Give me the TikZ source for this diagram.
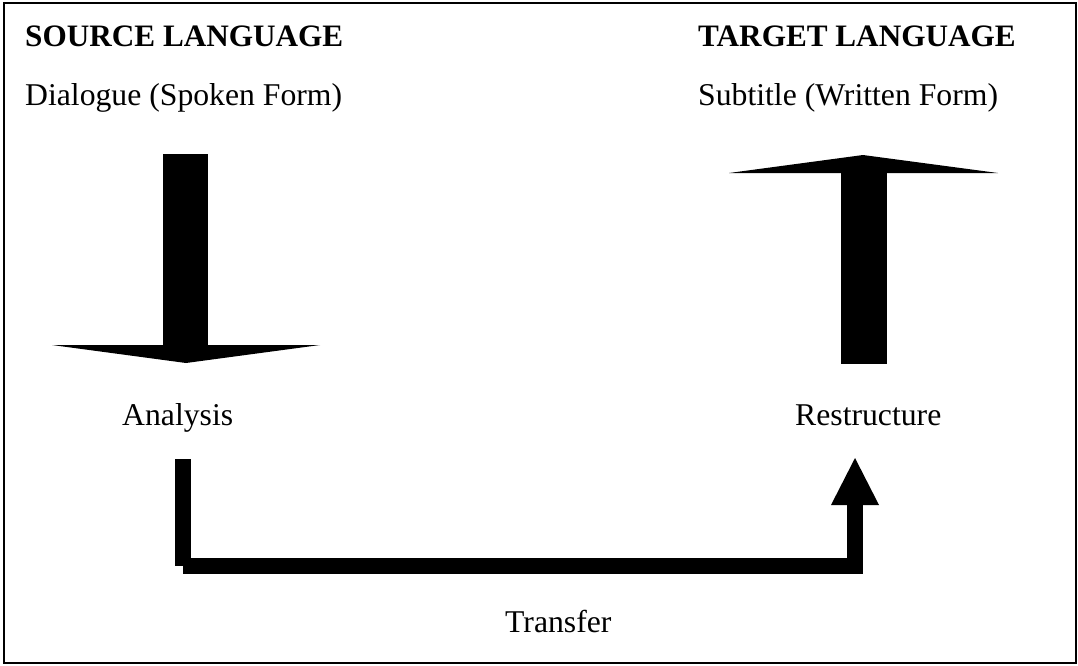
\documentclass[tikz,border=0pt]{standalone}
\usepackage{fontspec}
\setmainfont{Liberation Serif}
\usepackage{tikz}
\usetikzlibrary{calc,positioning}

\begin{document}
\begin{tikzpicture}[x=1pt,y=-1pt,
		lbl/.style={anchor=base west,inner sep=0pt,font=\fontsize{31.7}{38}\selectfont},
		head/.style={lbl,font=\fontsize{31.2}{38}\selectfont\bfseries},
		bar/.style={line width=16pt,line join=miter}]
		\useasboundingbox (0,0) rectangle (1078,665);
		\draw[line width=2pt] (4,3) rectangle (1076,663);
		\node[head] (src) at (25,46) {SOURCE LANGUAGE};
		\node[head] (tgt) at (698,46) {TARGET LANGUAGE};
		\node[lbl] (dlg) at (25,105) {Dialogue (Spoken Form)};
		\node[lbl] (sub) at (698,105) {Subtitle (Written Form)};
		\node[lbl] (ana) at (122,425) {Analysis};
		\node[lbl] (res) at (795,425) {Restructure};
		\node[lbl] (trf) at (505,632) {Transfer};
		\coordinate (d_top) at (185.5,154);
		\coordinate (d_tip) at (186,363);
		\coordinate (u_bot) at (864,364);
		\coordinate (u_tip) at (863,155);
		\coordinate (t_in) at (183,459);
		\coordinate (t_out) at (855,458);
		\fill (d_top) ++(-22.5,0) rectangle ++(45,192);
		\fill (d_tip) -- ++(-134,-18) -- ++(268,0) -- cycle;
		\fill (u_bot) ++(-23,0) rectangle ++(46,-192);
		\fill (u_tip) -- ++(-134,18) -- ++(269,0) -- cycle;
		\draw[bar] (t_in) -- (t_in |- 0,566) (t_in |- 0,566) -- (t_out |- 0,566) -- ($(t_out)+(0,47)$);
		\fill (t_out) -- ++(-24,47) -- ++(48,0) -- cycle;
	\end{tikzpicture}
\end{document}
